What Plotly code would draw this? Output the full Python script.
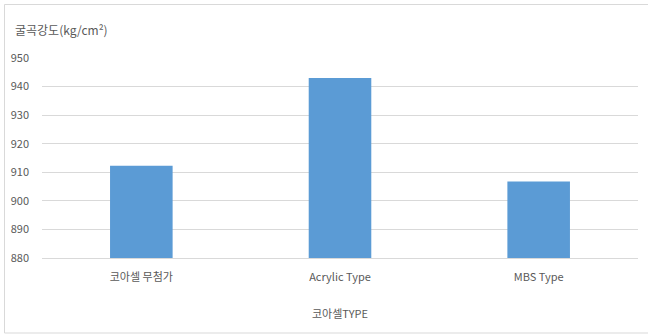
import plotly.graph_objects as go

# Flexural strength by core-shell type
categories = ["코아셀 무첨가", "Acrylic Type", "MBS Type"]
strength = [912.3, 943.0, 906.8]
y_ticks = [880, 890, 900, 910, 920, 930, 940, 950]

W, H = 648, 335
L, R, T, B = 42, 10, 58, 77
pw, ph = W - L - R, H - T - B

FONT = "Noto Sans CJK KR, Malgun Gothic, sans-serif"
TEXT = "#595959"

fig = go.Figure(
    go.Bar(
        x=categories,
        y=strength,
        width=0.315,
        marker=dict(color="#5B9BD5", line=dict(width=0)),
        hoverinfo="x+y",
    )
)


def px_x(p):
    return (p - L) / pw


def px_y(p):
    return 1 - (p - T) / ph


fig.update_layout(
    width=W,
    height=H,
    margin=dict(l=L, r=R, t=T, b=B),
    paper_bgcolor="white",
    plot_bgcolor="white",
    showlegend=False,
    font=dict(family=FONT, size=11, color=TEXT),
    xaxis=dict(
        showgrid=False,
        showline=True,
        linecolor="#D9D9D9",
        linewidth=1,
        ticks="",
        ticklabelstandoff=9,
        tickfont=dict(size=11, color=TEXT),
        title=dict(text="코아셀TYPE", font=dict(size=11, color=TEXT), standoff=27),
    ),
    yaxis=dict(
        range=[880, 950],
        tickvals=y_ticks,
        showgrid=True,
        gridcolor="#D9D9D9",
        gridwidth=1,
        zeroline=False,
        ticks="",
        ticklabelstandoff=12,
        tickfont=dict(size=11, color=TEXT),
    ),
    annotations=[
        dict(
            text="굴곡강도(kg/cm²)",
            xref="paper",
            yref="paper",
            x=px_x(13),
            y=px_y(30),
            xanchor="left",
            yanchor="middle",
            showarrow=False,
            font=dict(size=12, color=TEXT, family=FONT),
        )
    ],
    shapes=[
        dict(
            type="rect",
            xref="paper",
            yref="paper",
            x0=px_x(4.5),
            x1=px_x(652),
            y0=px_y(333),
            y1=px_y(4.5),
            line=dict(color="#D9D9D9", width=1),
            fillcolor="rgba(0,0,0,0)",
            layer="below",
        )
    ],
)

fig.write_html("out.html")
